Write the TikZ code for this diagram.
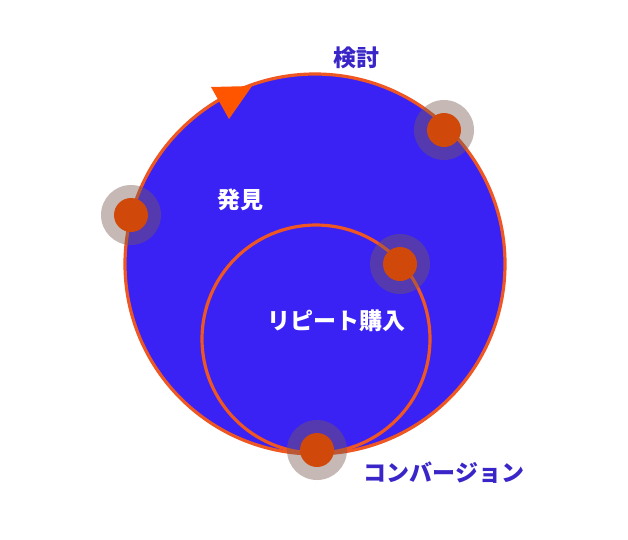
\documentclass[tikz,border=0pt]{standalone}
\usepackage{fontspec}
\newfontfamily\cjk{Noto Sans CJK JP}
\definecolor{fillblue}{RGB}{58,34,245}
\definecolor{ringorange}{RGB}{238,86,34}
\definecolor{dotorange}{RGB}{208,72,10}
\definecolor{halo}{RGB}{120,90,80}
\definecolor{labelblue}{RGB}{58,38,200}
\definecolor{arroworange}{RGB}{255,85,0}
\tikzset{
  ring/.style={draw=ringorange, line width=3.2pt},
  halodot/.style={circle, fill=halo, fill opacity=0.42, minimum size=60pt, inner sep=0pt},
  stage/.style={circle, fill=dotorange, minimum size=34pt, inner sep=0pt},
  lbl/.style={font=\cjk\bfseries\fontsize{23}{26}\selectfont, inner sep=0pt},
}
\begin{document}
\begin{tikzpicture}[x=1pt,y=-1pt]
\useasboundingbox[fill=white] (0,0) rectangle (628,539);
\node[circle, minimum size=380pt, inner sep=0pt, fill=fillblue, ring] (big) at (315,264) {};
\node[circle, minimum size=228pt, inner sep=0pt, ring] (small) at (316,339) {};
\draw[fill=arroworange, draw=none] (211,87) -- (252,86) -- (229,119) -- cycle;
\foreach \n/\x/\y in {a/444/130, b/131/215, c/400/264, d/317/450} {
  \node[halodot] (h\n) at (\x,\y) {};
  \node[stage] (\n) at (\x,\y) {};
}
\node[lbl, text=labelblue] (t1) at (356,58) {検討};
\node[lbl, text=white] (t2) at (240,200) {発見};
\node[lbl, text=white] (t3) at (336,321) {リピート購入};
\node[lbl, text=labelblue] (t4) at (444,473) {コンバージョン};
\end{tikzpicture}
\end{document}
